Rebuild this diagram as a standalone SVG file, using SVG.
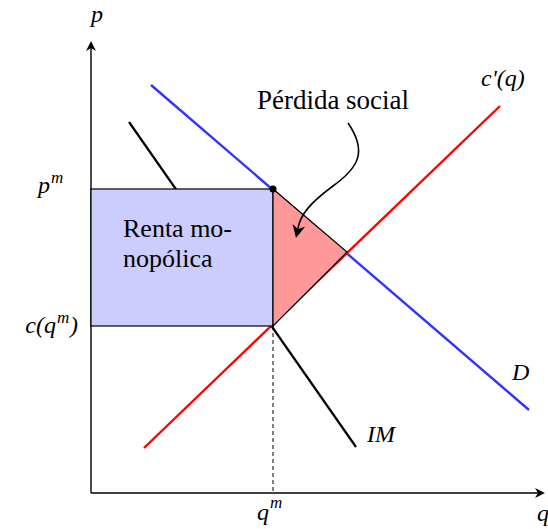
<svg xmlns="http://www.w3.org/2000/svg" width="548" height="529" viewBox="0 0 548 529">
<g id="axes">
<line x1="91" y1="493" x2="91" y2="48" stroke="#000" stroke-width="1.4"/>
<line x1="91" y1="493" x2="538" y2="493" stroke="#000" stroke-width="1.4"/>
<path d="M91,41 L86,51 L91,48 L96,51 Z" fill="#000"/>
<path d="M545,493 L535,488 L538,493 L535,498 Z" fill="#000"/>
</g>
<g id="curves">
<line x1="129" y1="122" x2="356" y2="447" stroke="#000" stroke-width="2.2"/>
<line x1="151" y1="85" x2="529" y2="410" stroke="#3333ff" stroke-width="2.4"/>
<line x1="144" y1="448" x2="500" y2="106" stroke="#ff0000" stroke-width="2.4"/>
<line x1="273" y1="326" x2="273" y2="493" stroke="#000" stroke-width="1" stroke-dasharray="4,3"/>
</g>
<g id="renta">
<rect x="91" y="189" width="182" height="137" fill="#ccccff" stroke="#000" stroke-width="1.2"/>
<text x="123" y="237" font-family="Liberation Serif" font-size="26">Renta mo-</text>
<text x="123" y="267" font-family="Liberation Serif" font-size="26">nopólica</text>
</g>
<g id="perdida">
<polygon points="273,189 347,252 273,326" fill="#ff9999" stroke="#000" stroke-width="1.2"/>
<circle cx="273" cy="189" r="3.5" fill="#000"/>
</g>
<g id="connectors">
<path d="M348,123 C368,152 358,168 333,186 C310,203 300,215 297.8,229" fill="none" stroke="#000" stroke-width="1.6"/>
<path d="M296,238 L305.1,226.7 L298,229.1 L292.5,223.9 Z" fill="#000"/>
</g>
<g id="title">
<text x="333" y="109" text-anchor="middle" font-family="Liberation Serif" font-size="27">Pérdida social</text>
</g>
<g id="labels">
<text x="91" y="22" font-family="Liberation Serif" font-style="italic" font-size="24">p</text>
<text x="38" y="193" font-family="Liberation Serif" font-style="italic" font-size="24">p</text>
<text x="51" y="183" font-family="Liberation Serif" font-style="italic" font-size="17">m</text>
<text x="56" y="333" text-anchor="end" font-family="Liberation Serif" font-style="italic" font-size="24">c(q</text>
<text x="57" y="323" font-family="Liberation Serif" font-style="italic" font-size="17">m</text>
<text x="70" y="333" font-family="Liberation Serif" font-style="italic" font-size="24">)</text>
<text x="257" y="520" font-family="Liberation Serif" font-style="italic" font-size="24">q</text>
<text x="270" y="508" font-family="Liberation Serif" font-style="italic" font-size="17">m</text>
<text x="537" y="521" font-family="Liberation Serif" font-style="italic" font-size="24">q</text>
<text x="481" y="86" font-family="Liberation Serif" font-style="italic" font-size="24">c'(q)</text>
<text x="512" y="380" font-family="Liberation Serif" font-style="italic" font-size="24">D</text>
<text x="367" y="442" font-family="Liberation Serif" font-style="italic" font-size="24">IM</text>
</g>
</svg>
